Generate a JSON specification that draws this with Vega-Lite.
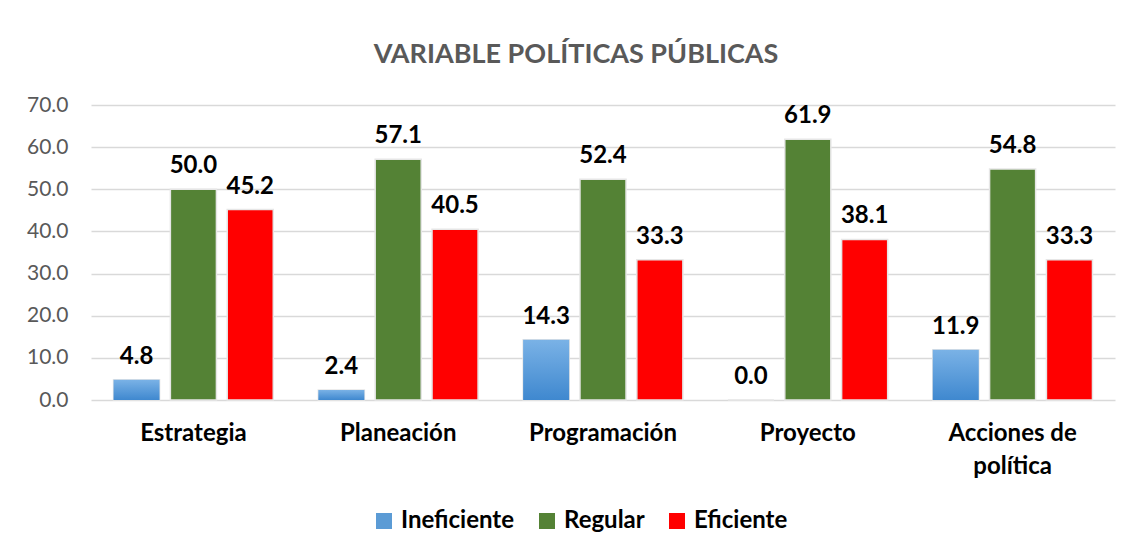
{
  "$schema": "https://vega.github.io/schema/vega-lite/v6.json",
  "width": 1024,
  "height": 295,
  "autosize": {"type": "none"},
  "padding": {"left": 91, "top": 105, "right": 17, "bottom": 153},
  "background": "white",
  "title": {
    "text": "VARIABLE POLÍTICAS PÚBLICAS",
    "font": "Lato",
    "fontSize": 27,
    "fontWeight": "bold",
    "color": "#595959",
    "anchor": "middle",
    "dx": -27,
    "offset": 25
  },
  "data": {
    "values": [
      {"categoria": "Estrategia", "serie": "Ineficiente", "valor": 4.8},
      {"categoria": "Estrategia", "serie": "Regular", "valor": 50.0},
      {"categoria": "Estrategia", "serie": "Eficiente", "valor": 45.2},
      {"categoria": "Planeación", "serie": "Ineficiente", "valor": 2.4},
      {"categoria": "Planeación", "serie": "Regular", "valor": 57.1},
      {"categoria": "Planeación", "serie": "Eficiente", "valor": 40.5},
      {"categoria": "Programación", "serie": "Ineficiente", "valor": 14.3},
      {"categoria": "Programación", "serie": "Regular", "valor": 52.4},
      {"categoria": "Programación", "serie": "Eficiente", "valor": 33.3},
      {"categoria": "Proyecto", "serie": "Ineficiente", "valor": 0.0},
      {"categoria": "Proyecto", "serie": "Regular", "valor": 61.9},
      {"categoria": "Proyecto", "serie": "Eficiente", "valor": 38.1},
      {"categoria": "Acciones de política", "serie": "Ineficiente", "valor": 11.9},
      {"categoria": "Acciones de política", "serie": "Regular", "valor": 54.8},
      {"categoria": "Acciones de política", "serie": "Eficiente", "valor": 33.3}
    ]
  },
  "encoding": {
    "x": {
      "field": "categoria",
      "type": "nominal",
      "sort": ["Estrategia", "Planeación", "Programación", "Proyecto", "Acciones de política"],
      "scale": {"paddingInner": 0.22, "paddingOuter": 0.11},
      "axis": {
        "title": null,
        "labelAngle": 0,
        "domain": false,
        "ticks": false,
        "labelFont": "Lato",
        "labelFontSize": 24,
        "labelFontWeight": "bold",
        "labelColor": "#000000",
        "labelPadding": 21,
        "labelLineHeight": 33,
        "labelExpr": "datum.label == 'Acciones de política' ? ['Acciones de', 'política'] : datum.label"
      }
    },
    "xOffset": {
      "field": "serie",
      "type": "nominal",
      "sort": ["Ineficiente", "Regular", "Eficiente"],
      "scale": {"domain": ["Ineficiente", "Regular", "Eficiente"], "paddingInner": 0.19}
    },
    "y": {
      "field": "valor",
      "type": "quantitative",
      "scale": {"domain": [0, 70]},
      "axis": {
        "title": null,
        "values": [0, 10, 20, 30, 40, 50, 60, 70],
        "format": ".1f",
        "domain": false,
        "ticks": false,
        "gridColor": "#d9d9d9",
        "gridWidth": 1.5,
        "labelFont": "Lato",
        "labelFontSize": 21,
        "labelColor": "#595959",
        "labelPadding": 23
      }
    }
  },
  "layer": [
    {
      "mark": {"type": "bar", "stroke": "#e6e6e6", "strokeWidth": 1.5},
      "encoding": {
        "color": {
          "field": "serie",
          "type": "nominal",
          "scale": {"domain": ["Ineficiente", "Regular", "Eficiente"], "range": ["#5b9bd5", "#548235", "#ff0000"]},
          "legend": {
            "title": null,
            "orient": "none",
            "direction": "horizontal",
            "legendX": 281,
            "legendY": 404,
            "symbolType": "square",
            "symbolSize": 256,
            "symbolStrokeWidth": 0,
            "labelFont": "Lato",
            "labelFontSize": 24,
            "labelFontWeight": "bold",
            "labelColor": "#000000",
            "columnPadding": 20,
            "labelOffset": 5
          }
        }
      }
    },
    {
      "transform": [{"filter": "datum.serie == 'Ineficiente'"}],
      "mark": {
        "type": "bar",
        "color": {
          "gradient": "linear",
          "x1": 0, "y1": 0, "x2": 0, "y2": 1,
          "stops": [
            {"offset": 0, "color": "#7ab2e6"},
            {"offset": 1, "color": "#3f88cf"}
          ]
        }
      }
    },
    {
      "mark": {
        "type": "text",
        "baseline": "bottom",
        "dy": -11,
        "font": "Lato",
        "fontSize": 24,
        "fontWeight": "bold",
        "color": "#000000"
      },
      "encoding": {
        "text": {"field": "valor", "type": "quantitative", "format": ".1f"}
      }
    }
  ],
  "config": {"view": {"stroke": null}}
}
